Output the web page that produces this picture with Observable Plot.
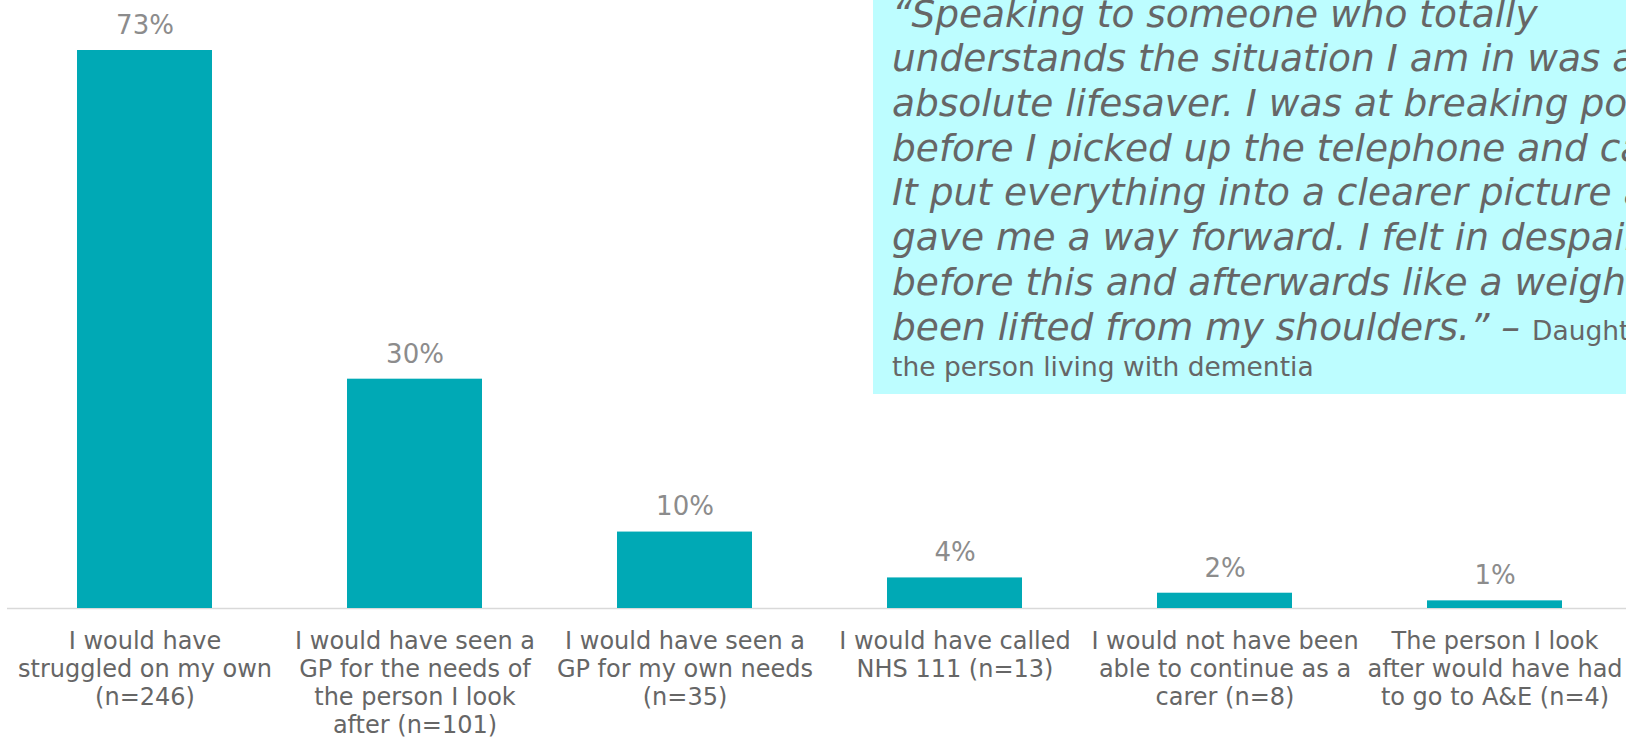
<!DOCTYPE html>
<html>
<head>
<meta charset="utf-8">
<script src="https://cdn.jsdelivr.net/npm/d3@7"></script>
<script src="https://cdn.jsdelivr.net/npm/@observablehq/plot@0.6"></script>
<style>
  html, body { margin: 0; padding: 0; overflow: hidden; background: #fff; }
  #wrap { position: relative; width: 1626px; height: 738px; overflow: hidden; }
  #chart { position: absolute; left: 0; top: 0; width: 1640px; }
  #chart svg { max-width: none !important; }
  #quote {
    position: absolute; left: 873px; top: 0; width: 800px; height: 394px;
    background: #bdfdff; overflow: hidden;
  }
  #quote .lines { position: absolute; left: 19px; top: -8.3px; color: #666; font-family: "DejaVu Sans", Verdana, sans-serif; white-space: nowrap; }
  #quote .it { font-style: italic; font-size: 37.5px; line-height: 44.7px; height: 44.7px; }
  #quote .rg { font-style: normal; font-size: 26.5px; }
  #quote .last { font-size: 26.5px; line-height: 29.4px; padding-top: 3px; }
</style>
</head>
<body>
<div id="wrap">
  <div id="chart"></div>
  <div id="quote"><div class="lines" id="qlines"></div></div>
</div>
<script>
const categories = [
  "I would have struggled on my own (n=246)",
  "I would have seen a GP for the needs of the person I look after (n=101)",
  "I would have seen a GP for my own needs (n=35)",
  "I would have called NHS 111 (n=13)",
  "I would not have been able to continue as a carer (n=8)",
  "The person I look after would have had to go to A&E (n=4)"
];
const values = [73, 30, 10, 4, 2, 1];
const tickLabels = [
  "I would have\nstruggled on my own\n(n=246)",
  "I would have seen a\nGP for the needs of\nthe person I look\nafter (n=101)",
  "I would have seen a\nGP for my own needs\n(n=35)",
  "I would have called\nNHS 111 (n=13)",
  "I would not have been\nable to continue as a\ncarer (n=8)",
  "The person I look\nafter would have had\nto go to A&E (n=4)"
];
const quoteLines = [
  "\u201CSpeaking to someone who totally",
  "understands the situation I am in was an",
  "absolute lifesaver. I was at breaking point",
  "before I picked up the telephone and called.",
  "It put everything into a clearer picture and",
  "gave me a way forward. I felt in despair",
  "before this and afterwards like a weight had",
  "been lifted from my shoulders.\u201D \u2013 "
];
const quoteAttribution = ["Daughter of", "the person living with dementia"];

const data = categories.map((c, i) => ({category: c, value: values[i]}));

const chart = Plot.plot({
  width: 1640,
  height: 738,
  marginLeft: 7,
  marginRight: 8,
  marginTop: 50,
  marginBottom: 130,
  style: {fontFamily: "DejaVu Sans, Verdana, sans-serif", background: "transparent", maxWidth: "none"},
  x: {domain: categories, paddingInner: 0.5, paddingOuter: 0.25},
  y: {domain: [0, 73], axis: null},
  marks: [
    Plot.ruleY([0], {stroke: "#d9d9d9", strokeWidth: 1.5}),
    Plot.barY(data, {x: "category", y: "value", fill: "#00a9b5"}),
    Plot.text(data, {x: "category", y: "value", text: d => d.value + "%", dy: -25, fontSize: 26, fill: "#8c8c8c"}),
    Plot.axisX({
      tickSize: 0,
      tickPadding: 21,
      label: null,
      fontSize: 24,
      lineHeight: 1.16,
      fill: "#666",
      tickFormat: d => tickLabels[categories.indexOf(d)]
    })
  ]
});
document.getElementById("chart").appendChild(chart);

const ql = document.getElementById("qlines");
quoteLines.forEach((t, i) => {
  const div = document.createElement("div");
  div.className = "it";
  div.textContent = t;
  if (i === quoteLines.length - 1) {
    const sp = document.createElement("span");
    sp.className = "rg";
    sp.textContent = quoteAttribution[0];
    div.appendChild(sp);
  }
  ql.appendChild(div);
});
const lastDiv = document.createElement("div");
lastDiv.className = "last";
lastDiv.textContent = quoteAttribution[1];
ql.appendChild(lastDiv);
</script>
</body>
</html>
